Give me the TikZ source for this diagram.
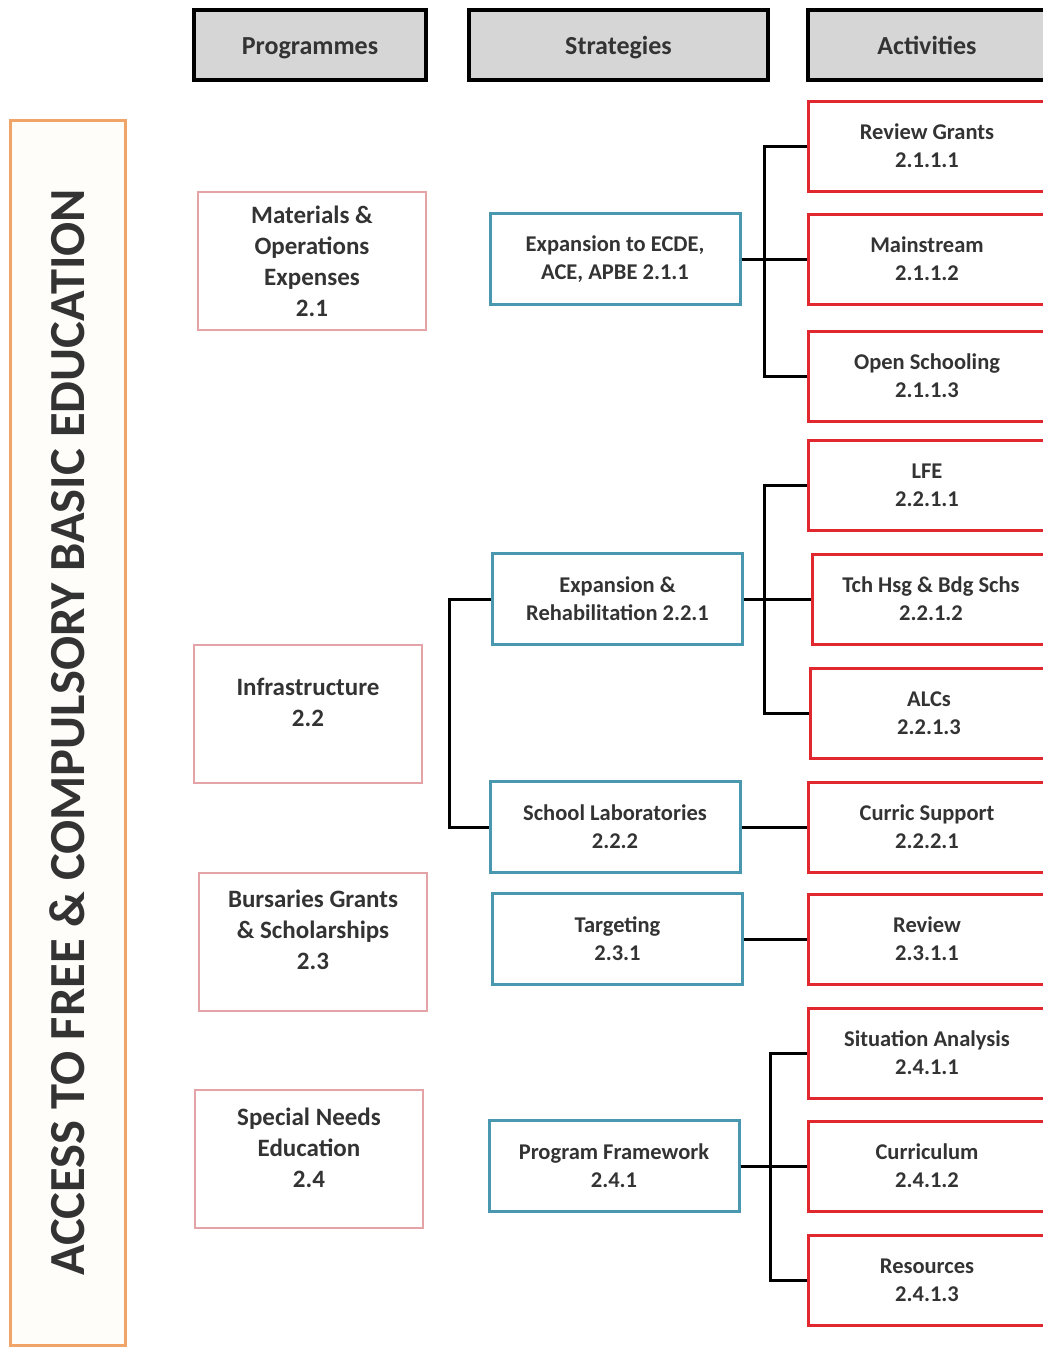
\documentclass[tikz,border=0pt]{standalone}
\usepackage{fontspec}
\setmainfont{Carlito}
\usetikzlibrary{positioning}

\definecolor{hdrgray}{HTML}{D6D6D6}
\definecolor{progpink}{HTML}{E4A3A6}
\definecolor{stratteal}{HTML}{4A98B0}
\definecolor{actred}{HTML}{E0282E}
\definecolor{ttlorange}{HTML}{F0A468}
\definecolor{ttlfill}{HTML}{FFFDFA}
\definecolor{txt}{HTML}{333333}

\begin{document}
\begin{tikzpicture}[
  x=1pt,y=-1pt,
  font=\bfseries\fontsize{22.5}{28}\selectfont,
  text=txt,
  box/.style={rectangle,align=center,inner sep=2pt},
  hdr/.style={box,draw=black,line width=4pt,fill=hdrgray,minimum height=70pt,
              text height=25pt,text depth=6pt,font=\bfseries\fontsize{26}{30}\selectfont},
  prog/.style={box,draw=progpink,line width=2pt,minimum width=228pt,minimum height=138pt,
               font=\bfseries\fontsize{25}{31}\selectfont},
  strat/.style={box,draw=stratteal,line width=3pt,minimum width=250pt,minimum height=91pt},
  act/.style={box,draw=actred,line width=3pt,minimum width=238pt,minimum height=90pt},
  ttl/.style={box,draw=ttlorange,line width=3pt,fill=ttlfill,rotate=90,
              minimum width=1225pt,minimum height=115pt,
              font=\bfseries\fontsize{50.5}{52}\selectfont},
  link/.style={draw=black,line width=3pt},
]
\useasboundingbox (0,0) rectangle (1042,1349);

% side title
\node[ttl] (title) at (67.5,732.5) {ACCESS TO FREE \& COMPULSORY BASIC EDUCATION};

% column headers
\node[hdr,minimum width=232pt] (hprog) at (310,45) {Programmes};
\node[hdr,minimum width=299pt] (hstrat) at (618.5,45) {Strategies};
\node[hdr,minimum width=238pt] (hact) at (927,45) {Activities};

% programmes
\node[prog] (p21) at (312,261) {Materials \&\\Operations\\Expenses\\2.1};
\node[prog] (p22) at (308,714) {Infrastructure\\2.2\\[-8pt]\mbox{}};
\node[prog] (p23) at (313,941.5) {Bursaries Grants\\\& Scholarships\\2.3\\[-8pt]\mbox{}};
\node[prog] (p24) at (309,1159) {Special Needs\\Education\\2.4\\[-8pt]\mbox{}};

% strategies
\node[strat] (s211) at (615,259) {Expansion to ECDE,\\ACE, APBE 2.1.1};
\node[strat] (s221) at (617.5,599) {Expansion \&\\Rehabilitation 2.2.1};
\node[strat] (s222) at (615,827) {School Laboratories\\2.2.2};
\node[strat] (s231) at (617.5,939) {Targeting\\2.3.1};
\node[strat] (s241) at (614,1166) {Program Framework\\2.4.1};

% activities
\node[act] (a2111) at (927,146) {Review Grants\\2.1.1.1};
\node[act] (a2112) at (927,259) {Mainstream\\2.1.1.2};
\node[act] (a2113) at (927,376) {Open Schooling\\2.1.1.3};
\node[act] (a2211) at (927,485) {LFE\\2.2.1.1};
\node[act] (a2212) at (931,599) {Tch Hsg \& Bdg Schs\\2.2.1.2};
\node[act] (a2213) at (929,713) {ALCs\\2.2.1.3};
\node[act] (a2221) at (927,827) {Curric Support\\2.2.2.1};
\node[act] (a2311) at (927,939) {Review\\2.3.1.1};
\node[act] (a2411) at (927,1053) {Situation Analysis\\2.4.1.1};
\node[act] (a2412) at (927,1166) {Curriculum\\2.4.1.2};
\node[act] (a2413) at (927,1280) {Resources\\2.4.1.3};

% connectors
\draw[link] (s211.east) -- ++(23,0) |- (a2111.west);
\draw[link] (s211.east) -- (a2112.west);
\draw[link] (s211.east) -- ++(23,0) |- (a2113.west);
\draw[link] (s221.east) -- ++(20,0) |- (a2211.west);
\draw[link] (s221.east) -- (a2212.west);
\draw[link] (s221.east) -- ++(20,0) |- (a2213.west);
\draw[link] (s221.west) -- ++(-42,0) |- (s222.west);
\draw[link] (s222.east) -- (a2221.west);
\draw[link] (s231.east) -- (a2311.west);
\draw[link] (s241.east) -- ++(30,0) |- (a2411.west);
\draw[link] (s241.east) -- (a2412.west);
\draw[link] (s241.east) -- ++(30,0) |- (a2413.west);
\end{tikzpicture}
\end{document}
